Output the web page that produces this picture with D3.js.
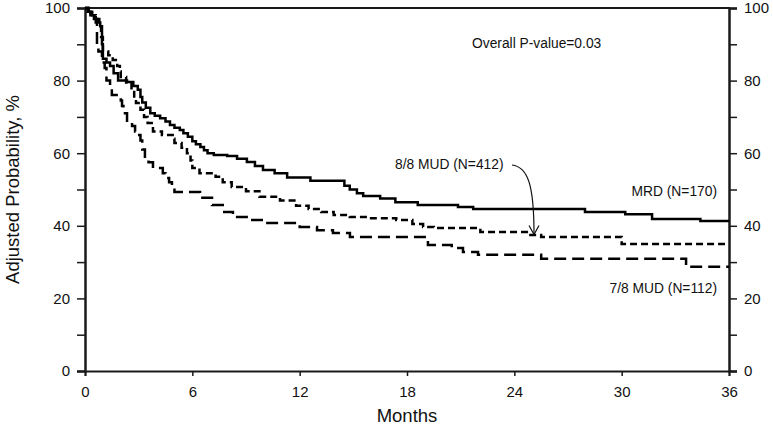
<!DOCTYPE html>
<html><head><meta charset="utf-8">
<script src="https://cdn.jsdelivr.net/npm/d3@7"></script>
<style>html,body{margin:0;padding:0;background:#fff}svg{display:block}</style>
</head><body><svg id="c" width="773" height="426"></svg>
<script>
const xTicks = [0, 6, 12, 18, 24, 30, 36];
const yTicks = [0, 20, 40, 60, 80, 100];
const yMinor = [10, 30, 50, 70, 90];

const mrdMonths = [0,0.15,0.3,0.5,0.7,0.85,0.95,1.0,1.2,1.4,1.6,1.85,2.35,2.7,2.95,3.1,3.2,3.4,3.65,3.9,4.2,4.5,4.75,5.0,5.3,5.5,5.75,6.0,6.2,6.45,6.65,6.85,7.2,7.95,8.5,9.05,9.5,9.95,10.6,11.3,12.6,14.5,14.8,15.2,15.55,16.5,17.35,18.6,20.85,21.7,27.95,30.2,31.7,34.4,36];
const mrdProb   = [100,99,98,97,96,95,90,86,85,84,82,80,79.6,78.5,77.5,75.5,74,72.5,71,70.3,69.6,68.7,67.8,67,66.4,65.5,64.5,63.3,62.5,61.7,60.8,60,59.5,59.2,58.5,57.6,56.5,55.4,54.5,53.3,52.4,51,50,49,48.2,47.5,46.5,45.7,45.2,44.6,43.8,43.2,41.9,41.3,41.3];

const mud88Months = [0,0.2,0.4,0.6,0.8,0.9,1.0,1.3,1.55,1.8,1.95,2.0,2.3,2.6,2.75,2.85,3.1,3.3,3.5,3.8,4.3,4.9,5.0,5.4,5.7,5.9,6.0,6.4,7.3,7.7,8.2,9.0,9.75,10.9,11.8,12.5,13.2,13.9,14.8,15.8,17.4,18.3,18.9,19.5,22.1,24.7,25.5,30.0,36];
const mud88Prob   = [100,99,98,97,95.5,92,88,87,85.7,84,82.5,81,79.5,77.5,75,73.8,72,70,68.3,66,65,64,62.8,61.5,60,58,55.9,54.5,53.5,52,50.7,49.5,48,47,45.5,44.6,43.8,43,42.4,42.1,41.6,40.5,39.7,39.4,38.3,37.5,36.9,35,35];

const mud78Months = [0,0.2,0.4,0.6,0.67,0.75,0.95,1.1,1.2,1.4,1.5,2.0,2.07,2.15,2.35,2.63,2.8,2.95,3.1,3.2,3.35,3.55,3.8,4.35,4.5,4.7,4.86,5.0,6.43,7.1,7.7,8.27,9.2,10.1,12.0,12.97,13.86,14.81,19.17,20.5,21.13,21.97,25.5,33.6,36];
const mud78Prob   = [100,99,97.5,96,90,88,85,83.5,80,78.8,76,74.5,73,71,68.6,67.5,66,65,63.5,61,59,57.5,55.9,54.5,53.2,52,50.5,49.3,47.7,45.7,43.8,42.4,41.6,40.8,39.7,38.8,38,36.9,34.7,33.9,32.8,32,30.9,28.7,28.7];

const seriesNames = ["MRD (N=170)", "8/8 MUD (N=412)", "7/8 MUD (N=112)"];

const svg = d3.select("#c");
const x = d3.scaleLinear().domain([0, 36]).range([85, 729]);
const y = d3.scaleLinear().domain([0, 100]).range([371, 8]);
const ink = "#1a1a1a";
const font = "Arial, 'Liberation Sans', sans-serif";

// axes
const gL = svg.append("g").attr("transform", "translate(85,0)")
  .call(d3.axisLeft(y).tickValues(yTicks).tickSize(8).tickPadding(7));
const gLm = svg.append("g").attr("transform", "translate(85,0)")
  .call(d3.axisLeft(y).tickValues(yMinor).tickSize(8).tickFormat(""));
const gR = svg.append("g").attr("transform", "translate(729,0)")
  .call(d3.axisRight(y).tickValues(yTicks).tickSize(8).tickPadding(7));
const gRm = svg.append("g").attr("transform", "translate(729,0)")
  .call(d3.axisRight(y).tickValues(yMinor).tickSize(8).tickFormat(""));
const gB = svg.append("g").attr("transform", "translate(0,371)")
  .call(d3.axisBottom(x).tickValues(xTicks).tickSize(5).tickPadding(10));
[gL, gLm, gR, gRm, gB].forEach(g => {
  g.selectAll("path.domain").attr("stroke", ink).attr("stroke-width", 2);
  g.selectAll(".tick line").attr("stroke", ink).attr("stroke-width", 1.5);
  g.selectAll("text").attr("font-family", font).attr("font-size", 15).attr("fill", "#111");
});
svg.append("line").attr("x1", 84).attr("x2", 730).attr("y1", y(100)).attr("y2", y(100))
  .attr("stroke", ink).attr("stroke-width", 2);

// curves
const line = d3.line().x(d => x(d[0])).y(d => y(d[1])).curve(d3.curveStepAfter);
const mk = (ts, ps) => ts.map((t, i) => [t, ps[i]]);
const plot = svg.append("g").attr("fill", "none").attr("stroke", "#000").attr("stroke-width", 2.5);
plot.append("path").attr("d", line(mk(mud78Months, mud78Prob))).attr("stroke-dasharray", "12,6");
plot.append("path").attr("d", line(mk(mud88Months, mud88Prob))).attr("stroke-dasharray", "7,4");
plot.append("path").attr("d", line(mk(mrdMonths, mrdProb)));

// titles
svg.append("text").attr("x", (x(0) + x(36)) / 2).attr("y", 422).attr("text-anchor", "middle")
  .attr("font-family", font).attr("font-size", 18.5).attr("fill", "#111").text("Months");
svg.append("text").attr("transform", `translate(19,${(y(0) + y(100)) / 2}) rotate(-90)`)
  .attr("text-anchor", "middle").attr("font-family", font).attr("font-size", 18.5).attr("fill", "#111")
  .text("Adjusted Probability, %");

// annotations
const ann = svg.append("g").attr("font-family", font).attr("font-size", 13.8).attr("fill", "#111");
ann.append("text").attr("x", 472).attr("y", 48).text("Overall P-value=0.03");
ann.append("text").attr("x", 395).attr("y", 169).text(seriesNames[1]);
ann.append("text").attr("x", 717).attr("y", 196).attr("text-anchor", "end").text(seriesNames[0]);
ann.append("text").attr("x", 717).attr("y", 293).attr("text-anchor", "end").text(seriesNames[2]);

// arrow
const tipX = x(25.1), tipY = y(37.6);
svg.append("path").attr("d", `M${tipX - 22},165 C${tipX - 6},167 ${tipX},185 ${tipX},${tipY}`)
  .attr("fill", "none").attr("stroke", "#111").attr("stroke-width", 1.2);
svg.append("path").attr("d", `M${tipX - 5},${tipY - 9} L${tipX},${tipY} L${tipX + 5},${tipY - 9}`)
  .attr("fill", "none").attr("stroke", "#111").attr("stroke-width", 1.2);
</script></body></html>
